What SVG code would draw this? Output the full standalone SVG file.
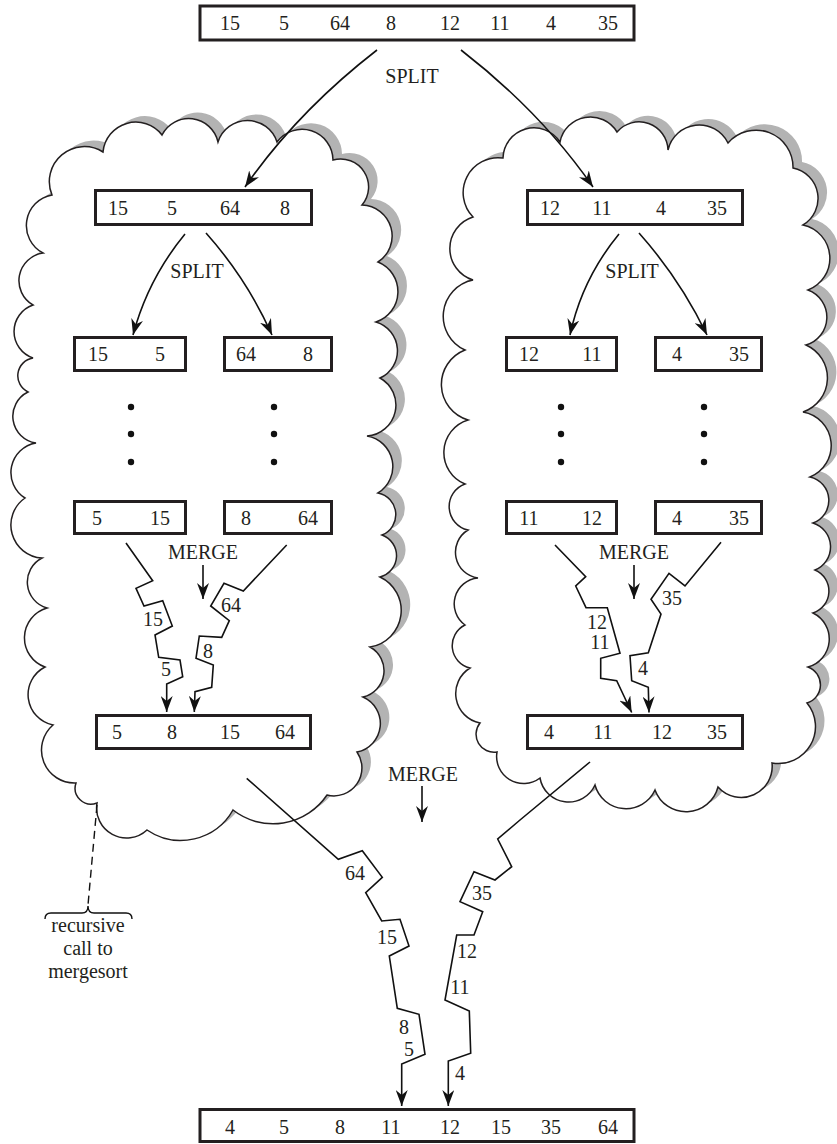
<svg xmlns="http://www.w3.org/2000/svg" width="837" height="1144" viewBox="0 0 837 1144">
<style>
  text { font-family: "Liberation Serif", "Times New Roman", serif; font-size: 20px; fill: #231f20; text-anchor: middle; }
  .box { fill: #fff; stroke: #231f20; stroke-width: 3; }
  .cloud { fill: #fff; stroke: #231f20; stroke-width: 1.5; }
  .shadow { fill: #b3b3b3; stroke: none; }
  .conn { fill: none; stroke: #111; stroke-width: 1.6; stroke-linejoin: miter; }
  .arr { marker-end: url(#ah); }
  .dot { fill: #111; }
  .dash { fill: none; stroke: #111; stroke-width: 1.4; stroke-dasharray: 8 5; }
</style>
<defs>
  <marker id="ah" viewBox="0 0 16 12" refX="16" refY="6" markerWidth="16" markerHeight="12" markerUnits="userSpaceOnUse" orient="auto">
    <path d="M0,0 L16,6 L0,12 L5,6 Z" fill="#111"/>
  </marker>
  <path id="cl" d="M52,195 A35,35 0 0 1 103,152 A33,33 0 0 1 162,135 A30,30 0 0 1 218,142 A31,31 0 0 1 277,142 A31,31 0 0 1 333,160 A28,28 0 0 1 362,205 A31,31 0 0 1 378,262 A32,32 0 0 1 376,322 A30,30 0 0 1 380,378 A31,31 0 0 1 367,436 A31,31 0 0 1 378,493 A22,22 0 0 1 382,535 A22,22 0 0 1 380,577 A37,37 0 0 1 370,647 A27,27 0 0 1 363,697 A29,29 0 0 1 357,752 A28,28 0 0 1 327,795 A65,65 0 0 1 233,810 A60,60 0 0 1 147,830 A30,30 0 0 1 97,803 A16,16 0 0 1 76,783 A33,33 0 0 1 53,725 A31,31 0 0 1 45,667 A31,31 0 0 1 47,608 A27,27 0 0 1 42,558 A33,33 0 0 1 25,498 A30,30 0 0 1 36,443 A27,27 0 0 1 28,392 A18,18 0 0 1 33,358 A28,28 0 0 1 33,305 A28,28 0 0 1 43,253 A31,31 0 0 1 52,195 Z"/>
  <path id="cr" d="M473,217 A35,35 0 0 1 503,158 A31,31 0 0 1 560,142 A31,31 0 0 1 617,132 A29,29 0 0 1 668,150 A32,32 0 0 1 728,143 A37,37 0 0 1 793,168 A31,31 0 0 1 803,225 A34,34 0 0 1 808,290 A29,29 0 0 1 806,345 A36,36 0 0 1 803,412 A34,34 0 0 1 810,477 A24,24 0 0 1 813,523 A25,25 0 0 1 815,570 A23,23 0 0 1 813,613 A29,29 0 0 1 808,667 A19,19 0 0 1 807,703 A37,37 0 0 1 772,763 A31,31 0 0 1 718,787 A33,33 0 0 1 655,790 A32,32 0 0 1 595,785 A29,29 0 0 1 540,778 A27,27 0 0 1 497,752 A18,18 0 0 1 480,723 A30,30 0 0 1 470,668 A23,23 0 0 1 465,625 A26,26 0 0 1 478,578 A26,26 0 0 1 468,530 A24,24 0 0 1 465,484 A34,34 0 0 1 468,420 A37,37 0 0 1 465,350 A37,37 0 0 1 473,280 A33,33 0 0 1 473,217 Z"/>
</defs>

<g id="cloud-left">
  <use href="#cl" class="shadow" transform="translate(9,-6)"/>
  <use href="#cl" class="cloud"/>
</g>
<g id="cloud-right">
  <use href="#cr" class="shadow" transform="translate(9,-6)"/>
  <use href="#cr" class="cloud"/>
</g>

<g id="node-top">
  <rect class="box" x="200" y="6" width="434" height="34"/>
  <text x="230" y="30">15</text><text x="284" y="30">5</text><text x="340" y="30">64</text><text x="391" y="30">8</text>
  <text x="450" y="30">12</text><text x="500" y="30">11</text><text x="551" y="30">4</text><text x="608" y="30">35</text>
</g>

<g id="node-L">
  <rect class="box" x="95.5" y="190.5" width="216" height="34"/>
  <text x="118" y="215">15</text><text x="172" y="215">5</text><text x="230" y="215">64</text><text x="285" y="215">8</text>
</g>
<g id="node-R">
  <rect class="box" x="527.5" y="190.5" width="215" height="34"/>
  <text x="550" y="215">12</text><text x="602" y="215">11</text><text x="661" y="215">4</text><text x="717" y="215">35</text>
</g>

<g id="node-LL">
  <rect class="box" x="74.5" y="337.5" width="111" height="33"/>
  <text x="98" y="361">15</text><text x="160" y="361">5</text>
</g>
<g id="node-LR">
  <rect class="box" x="224.5" y="337.5" width="107" height="33"/>
  <text x="246" y="361">64</text><text x="308" y="361">8</text>
</g>
<g id="node-RL">
  <rect class="box" x="506.5" y="337.5" width="110" height="33"/>
  <text x="529" y="361">12</text><text x="592" y="361">11</text>
</g>
<g id="node-RR">
  <rect class="box" x="655.5" y="337.5" width="106" height="33"/>
  <text x="677" y="361">4</text><text x="739" y="361">35</text>
</g>

<g id="dots">
  <circle class="dot" cx="131" cy="407" r="3.2"/><circle class="dot" cx="131" cy="434" r="3.2"/><circle class="dot" cx="131" cy="462" r="3.2"/>
  <circle class="dot" cx="274" cy="407" r="3.2"/><circle class="dot" cx="274" cy="434" r="3.2"/><circle class="dot" cx="274" cy="462" r="3.2"/>
  <circle class="dot" cx="561" cy="407" r="3.2"/><circle class="dot" cx="561" cy="434" r="3.2"/><circle class="dot" cx="561" cy="462" r="3.2"/>
  <circle class="dot" cx="704" cy="407" r="3.2"/><circle class="dot" cx="704" cy="434" r="3.2"/><circle class="dot" cx="704" cy="462" r="3.2"/>
</g>

<g id="node-LLs">
  <rect class="box" x="74.5" y="501.5" width="111" height="32"/>
  <text x="97" y="525">5</text><text x="160" y="525">15</text>
</g>
<g id="node-LRs">
  <rect class="box" x="224.5" y="501.5" width="107" height="32"/>
  <text x="246" y="525">8</text><text x="308" y="525">64</text>
</g>
<g id="node-RLs">
  <rect class="box" x="506.5" y="501.5" width="110" height="32"/>
  <text x="529" y="525">11</text><text x="592" y="525">12</text>
</g>
<g id="node-RRs">
  <rect class="box" x="655.5" y="501.5" width="106" height="32"/>
  <text x="677" y="525">4</text><text x="739" y="525">35</text>
</g>

<g id="node-Ls">
  <rect class="box" x="96.5" y="715.5" width="214" height="33"/>
  <text x="117" y="739">5</text><text x="172" y="739">8</text><text x="230" y="739">15</text><text x="285" y="739">64</text>
</g>
<g id="node-Rs">
  <rect class="box" x="527.5" y="715.5" width="215" height="33"/>
  <text x="549" y="739">4</text><text x="603" y="739">11</text><text x="662" y="739">12</text><text x="717" y="739">35</text>
</g>

<g id="node-bottom">
  <rect class="box" x="200" y="1109.5" width="434" height="32"/>
  <text x="230" y="1134">4</text><text x="284" y="1134">5</text><text x="340" y="1134">8</text><text x="391" y="1134">11</text>
  <text x="450" y="1134">12</text><text x="501" y="1134">15</text><text x="551" y="1134">35</text><text x="608" y="1134">64</text>
</g>

<g id="connectors">
  <path class="conn arr" d="M377,50 Q297,112 245,187"/>
  <path class="conn arr" d="M461,50 Q541,112 593,187"/>
  <path class="conn arr" d="M185,234 Q148,279 133,335"/>
  <path class="conn arr" d="M206,233 Q247,279 272,335"/>
  <path class="conn arr" d="M619,234 Q582,279 570,335"/>
  <path class="conn arr" d="M639,233 Q680,279 707,335"/>
  <path class="conn arr" d="M203,565 L203,599"/>
  <path class="conn arr" d="M634,565 L634,599"/>
  <path class="conn arr" d="M422,786 L422,822"/>
  <path class="conn arr" d="M126,543 L152.7,580.7 L136,588.3 L144,606 L162.7,600.7 L172.3,626 L155,635 L158.7,657.3 L180,660 L182.7,676.7 L166.7,684 L166.7,712"/>
  <path class="conn arr" d="M286.7,545 L243.3,591 L224,583.3 L210.7,606 L229.3,620.7 L221.7,637.3 L199.3,636 L196,658.3 L213.3,665 L211.7,687.3 L195,691.7 L194.3,712"/>
  <path class="conn arr" d="M555,545 L585.7,576.7 L575.7,586 L586,607.7 L607.3,607.7 L620,653.3 L600.7,658.3 L600.7,678.3 L616.7,680.7 L631.7,712.5"/>
  <path class="conn arr" d="M721,542.3 L685,586 L669,573.3 L651,599.3 L661,614 L648.3,652.7 L630,655.7 L631.7,680.7 L648.3,687.3 L649,712.5"/>
  <path class="conn arr" d="M246.7,778.3 L338.3,859.3 L362.3,850.7 L382.3,877.3 L365.7,892.7 L381.7,921 L400,919.3 L409,946 L389.3,956 L397.3,1008.3 L419,1014.3 L425,1054.3 L401.7,1064 L401.7,1106"/>
  <path class="conn arr" d="M590,762 L520,820 L497.7,839 L511.7,866.7 L495,880 L474,871.7 L460,901.7 L482.7,911.7 L474,935 L456.7,935 L445,1000 L469.3,1011 L470.7,1053.3 L448.3,1061 L448.3,1106"/>
  <path class="dash" d="M97,805 L88,905"/>
  <path class="conn" d="M45,919 Q45,913 51,913 L82,913 Q88,913 88,906 Q88,913 94,913 L126,913 Q132,913 132,919" style="stroke-width:1.4"/>
</g>

<g id="labels">
  <text x="412" y="83">SPLIT</text>
  <text x="197" y="278">SPLIT</text>
  <text x="632" y="278">SPLIT</text>
  <text x="203" y="559">MERGE</text>
  <text x="634" y="559">MERGE</text>
  <text x="423" y="781">MERGE</text>
  <text x="153" y="626">15</text>
  <text x="166" y="676">5</text>
  <text x="231" y="612">64</text>
  <text x="208" y="658">8</text>
  <text x="597" y="629">12</text>
  <text x="600" y="649">11</text>
  <text x="672" y="605">35</text>
  <text x="643" y="675">4</text>
  <text x="355" y="880">64</text>
  <text x="387" y="944">15</text>
  <text x="404" y="1034">8</text>
  <text x="409" y="1056">5</text>
  <text x="482" y="900">35</text>
  <text x="467" y="958">12</text>
  <text x="460" y="994">11</text>
  <text x="460" y="1080">4</text>
  <text x="88" y="932">recursive</text>
  <text x="88" y="955">call to</text>
  <text x="88" y="978">mergesort</text>
</g>
</svg>
